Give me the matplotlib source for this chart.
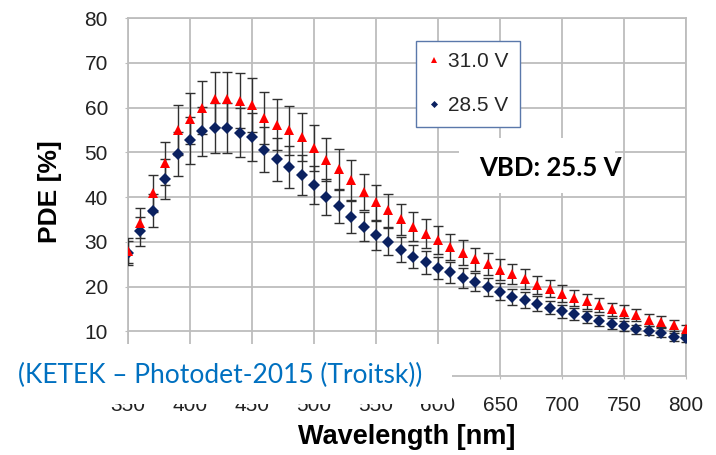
import matplotlib
matplotlib.use("Agg")
import matplotlib.pyplot as plt
from matplotlib.patches import Rectangle

# PDE vs wavelength, KETEK SiPM at two bias voltages
wavelength = list(range(350, 801, 10))

pde_31v = [28.0, 34.2, 40.8, 47.5, 55.0, 57.5, 60.0, 61.8, 61.8, 61.5,
           60.6, 57.6, 56.2, 54.9, 53.4, 51.0, 48.3, 46.2, 43.8, 41.1,
           38.8, 37.0, 35.0, 33.4, 31.8, 30.4, 28.8, 27.6, 26.1, 25.0,
           23.8, 22.8, 21.7, 20.4, 19.5, 18.4, 17.5, 16.7, 15.8, 14.9,
           14.4, 13.6, 12.5, 12.1, 11.3, 10.4]

pde_285v = [27.5, 32.4, 36.9, 44.0, 49.6, 52.7, 54.7, 55.4, 55.4, 54.4,
            53.4, 50.6, 48.4, 46.7, 45.0, 42.7, 40.1, 38.0, 35.6, 33.4,
            31.4, 30.0, 28.2, 26.7, 25.4, 24.1, 23.2, 21.9, 21.0, 19.9,
            18.8, 17.7, 17.0, 16.2, 15.3, 14.5, 13.9, 13.2, 12.4, 11.7,
            11.2, 10.4, 10.1, 9.7, 8.7, 8.4]

# relative uncertainty on each point
rel_err = 0.10

xticks = list(range(350, 801, 50))
yticks = list(range(10, 81, 10))

plt.rcParams['font.family'] = ['Liberation Sans', 'DejaVu Sans']

fig = plt.figure(figsize=(7.16, 4.55), dpi=100)
ax = fig.add_axes([0.1788, 0.1736, 0.7793, 0.7868])

grid_c = '#bdbdbd'

# error bars under the markers
err_31 = [v * rel_err for v in pde_31v]
err_285 = [v * rel_err for v in pde_285v]
ax.errorbar(wavelength, pde_285v, yerr=err_285, fmt='none', ecolor='#303030',
            elinewidth=1.0, capsize=3.5, capthick=1.0, zorder=3)
ax.errorbar(wavelength, pde_31v, yerr=err_31, fmt='none', ecolor='#303030',
            elinewidth=1.0, capsize=3.5, capthick=1.0, zorder=3)

ax.plot(wavelength, pde_285v, 'D', color='#0b2160', markersize=6,
        markeredgewidth=0, label='28.5 V', zorder=4)
ax.plot(wavelength, pde_31v, '^', color='#ff0000', markersize=7.5,
        markeredgewidth=0, label='31.0 V', zorder=5)

ax.set_xlim(350, 800)
ax.set_ylim(0, 80)
ax.set_xticks(xticks)
ax.set_yticks(yticks)
ax.grid(True, color=grid_c, linewidth=1.3)
ax.set_axisbelow(True)
for s in ax.spines.values():
    s.set_color(grid_c)
    s.set_linewidth(1.3)
ax.tick_params(axis='both', length=2.5, color=grid_c, labelsize=15,
               labelcolor='#222222', pad=12)

ax.set_ylabel('PDE [%]', fontsize=19, fontweight='bold')
ax.yaxis.set_label_coords(-0.118, 0.515)
ax.set_xlabel('Wavelength [nm]', fontsize=19.5, fontweight='bold')
ax.xaxis.set_label_coords(0.5, -0.135)

handles, labels = ax.get_legend_handles_labels()
leg = ax.legend(handles[::-1], labels[::-1], loc='upper left',
                bbox_to_anchor=(0.516, 0.936), borderaxespad=0,
                fontsize=15, markerscale=0.6, handlelength=0.6,
                handletextpad=0.4, labelspacing=1.2, borderpad=0.55,
                fancybox=False, framealpha=1, edgecolor='#5a78aa',
                labelcolor='#262626')
leg.get_frame().set_linewidth(1.0)
leg.set_zorder(10)

# white patch behind the breakdown-voltage note
ax.add_patch(Rectangle((617, 40.9), 126, 12.3, facecolor='white',
                       edgecolor='none', zorder=6))
ax.text(691, 46.5, 'VBD: 25.5 V', fontsize=18.5, fontweight='bold',
        family=['Lato', 'DejaVu Sans'], ha='center', va='center',
        color='black', zorder=7)

# source note over the lower-left corner
fig.patches.append(Rectangle((0, 1 - 404 / 455), 452 / 716, 60 / 455,
                             transform=fig.transFigure, facecolor='white',
                             edgecolor='none', zorder=5))
fig.text(18 / 716, 1 - 375 / 455, '(KETEK \u2013 Photodet-2015 (Troitsk))',
         fontsize=19, family=['Lato', 'DejaVu Sans'], color='#0070c0',
         ha='left', va='center', zorder=6)

fig.savefig('out.png', dpi=100)
